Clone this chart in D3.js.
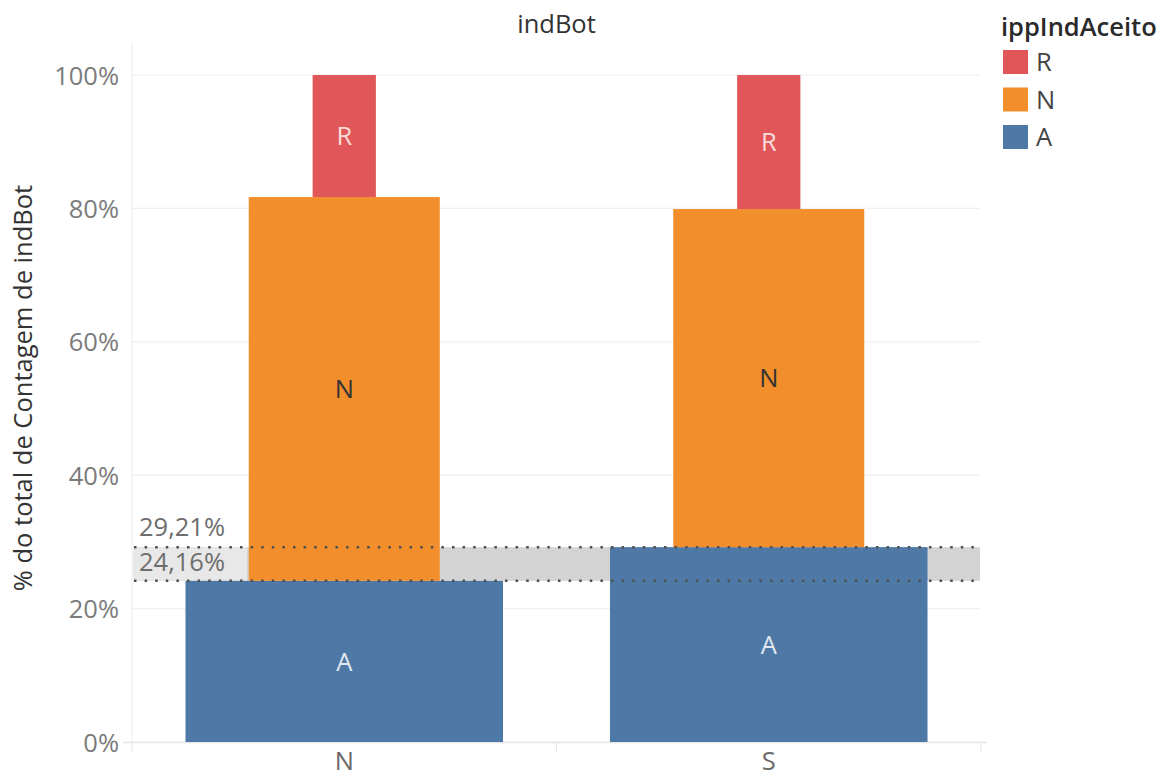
<!DOCTYPE html>
<html><head><meta charset="utf-8">
<script src="https://cdn.jsdelivr.net/npm/d3@7/dist/d3.min.js"></script>
<style>body{margin:0;background:#fff}svg{display:block;font-family:"Open Sans",Lato,sans-serif}</style>
</head><body><svg id="c" width="1161" height="778"></svg>
<script>
const categories = ["N", "S"];
const series = ["A", "N", "R"];
const valuesA = [24.16, 29.21];
const valuesN = [57.54, 50.69];
const valuesR = [18.30, 20.10];
const yTicks = [0, 20, 40, 60, 80, 100];
const refLines = [24.16, 29.21];
const legendOrder = ["R", "N", "A"];

const colors = {A: "#4e79a7", N: "#f28e2b", R: "#e15759"};
const labelColors = {A: "#e2e9f1", N: "#333333", R: "#f9dada"};
const widthFrac = {A: 0.748, N: 0.45, R: 0.149};
const FS = 25.5;

const svg = d3.select("#c");
const L = 132, Rt = 981, T = 42, B = 742;
const x = d3.scaleBand().domain(categories).range([L, Rt]).padding(0);
const y = d3.scaleLinear().domain([0, 100]).range([B, 75]);

// gridlines
svg.append("g").selectAll("line").data(yTicks).join("line")
  .attr("x1", L).attr("x2", Rt - 1).attr("y1", d => y(d)).attr("y2", d => y(d))
  .attr("stroke", "#f0f0f0").attr("stroke-width", 1.2);

// axis lines
svg.append("line").attr("x1", L).attr("x2", L).attr("y1", T).attr("y2", B)
  .attr("stroke", "#ececec");
svg.append("line").attr("x1", 123).attr("x2", Rt + 6).attr("y1", B + 0.5).attr("y2", B + 0.5)
  .attr("stroke", "#e6e6e6").attr("stroke-width", 1.5);
svg.append("g").selectAll("line").data([L, x("S"), Rt]).join("line")
  .attr("x1", d => d).attr("x2", d => d).attr("y1", B).attr("y2", B + 10)
  .attr("stroke", "#e6e6e6");

// y tick labels
const yAxis = d3.axisLeft(y).tickValues(yTicks).tickFormat(d => d + "%").tickSize(0).tickPadding(13);
const ga = svg.append("g").attr("transform", `translate(${L},0)`).call(yAxis);
ga.select(".domain").remove();
ga.selectAll("text").attr("font-size", FS).attr("fill", "#7b7b7b")
  .attr("font-family", "'Open Sans',sans-serif").attr("dy", "0.36em");

// x labels
const xAxis = d3.axisBottom(x).tickSize(0).tickPadding(0);
const gx = svg.append("g").attr("transform", `translate(0,${B})`).call(xAxis);
gx.select(".domain").remove();
gx.selectAll("text").attr("font-size", FS).attr("fill", "#6a6a6a")
  .attr("font-family", "'Open Sans',sans-serif").attr("dy", null).attr("y", 28);

// reference band
svg.append("rect").attr("x", L + 1).attr("width", Rt - L - 2)
  .attr("y", y(refLines[1])).attr("height", y(refLines[0]) - y(refLines[1]))
  .attr("fill", "#d4d4d4");

// stack data
const rows = categories.map((c, i) => ({cat: c, A: valuesA[i], N: valuesN[i], R: valuesR[i]}));
const stacked = d3.stack().keys(series)(rows);

// reference label box (left)
svg.append("rect").attr("x", L + 1).attr("width", 114)
  .attr("y", y(refLines[1])).attr("height", y(refLines[0]) - y(refLines[1]))
  .attr("fill", "#e8e8e8");

const bars = svg.append("g");
stacked.forEach(layer => {
  const k = layer.key;
  layer.forEach(d => {
    const cx = x(d.data.cat) + x.bandwidth() / 2;
    const w = x.bandwidth() * widthFrac[k];
    bars.append("rect").attr("x", cx - w / 2).attr("width", w)
      .attr("y", y(d[1])).attr("height", y(d[0]) - y(d[1]))
      .attr("fill", colors[k]);
  });
});

// dotted ref lines
svg.append("g").selectAll("line").data(refLines).join("line")
  .attr("x1", L + 2).attr("x2", Rt - 1).attr("y1", d => y(d)).attr("y2", d => y(d))
  .attr("stroke", "#505050").attr("stroke-width", 2.5).attr("stroke-dasharray", "2.5,8.1");

// ref labels
const fmt = v => v.toFixed(2).replace(".", ",") + "%";
svg.append("text").attr("x", 139).attr("y", y(refLines[1]) - 11).text(fmt(refLines[1]))
  .attr("font-size", FS).attr("fill", "#6e6e6e");
svg.append("text").attr("x", 139).attr("y", y(refLines[0]) - 10).text(fmt(refLines[0]))
  .attr("font-size", FS).attr("fill", "#6e6e6e");

// bar labels
stacked.forEach(layer => {
  const k = layer.key;
  layer.forEach(d => {
    const cx = x(d.data.cat) + x.bandwidth() / 2;
    bars.append("text").attr("x", cx).attr("y", y((d[0] + d[1]) / 2))
      .attr("dy", "0.36em").attr("text-anchor", "middle")
      .attr("font-size", FS).attr("fill", labelColors[k]).text(k);
  });
});

// title
svg.append("text").attr("x", (L + Rt) / 2).attr("y", 33).attr("text-anchor", "middle")
  .attr("font-size", FS).attr("fill", "#333").text("indBot");

// y axis title
svg.append("text").attr("transform", `translate(32,${(T + B) / 2 - 4}) rotate(-90)`)
  .attr("text-anchor", "middle").attr("font-size", FS).attr("fill", "#333")
  .text("% do total de Contagem de indBot");

// legend
const lg = svg.append("g");
lg.append("text").attr("x", 1001).attr("y", 36).attr("font-size", FS).attr("fill", "#2a2a2a")
  .attr("font-weight", 600).text("ippIndAceito");
legendOrder.forEach((k, i) => {
  lg.append("rect").attr("x", 1003).attr("y", 50 + i * 37.5).attr("width", 25).attr("height", 24)
    .attr("fill", colors[k]);
  lg.append("text").attr("x", 1036).attr("y", 71 + i * 37.5)
    .attr("font-size", FS).attr("fill", "#444").text(k);
});
</script></body></html>
